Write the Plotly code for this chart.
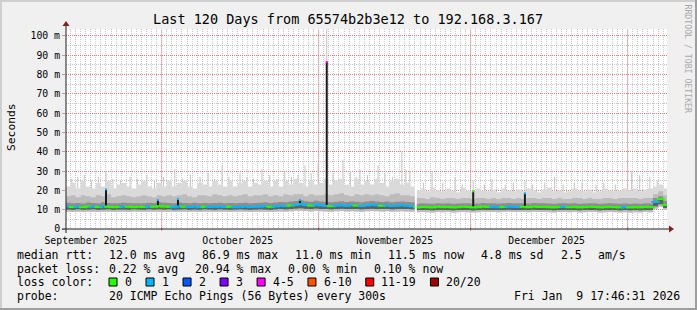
import plotly.graph_objects as go
import pandas as pd

# ---------------- data ----------------
START_DAY = "2025-09-12"          # first daily bin
X_RANGE = ["2025-09-12 02:30", "2026-01-08 18:15"]
Y_MAX = 103.6

median_ms = [
    11.6, 11.4, 11.5, 11.3, 11.6, 11.5, 11.4, 11.7, 11.5, 11.3, 11.4, 11.6, 11.5, 11.3, 11.5, 11.4, 11.6, 11.5, 11.8,
    11.6, 11.5, 11.3, 11.7, 11.5, 11.4, 11.6, 11.3, 11.5, 11.4, 11.5, 11.6, 11.4, 11.5, 11.3, 11.5, 11.6, 11.4, 11.5,
    11.6, 11.8, 11.5, 11.7, 12.0, 11.8, 12.2, 12.5, 12.9, 12.4, 12.1, 12.6,
    12.2, 12.0, 11.8, 12.1, 12.4, 12.0, 12.3, 12.1, 11.9, 12.2, 12.5, 12.3, 12.0, 12.2, 11.9, 12.1, 12.3, 12.0, 11.8,
    11.2, 11.4, 11.3, 11.2, 11.5, 11.3, 11.4, 11.2, 11.3, 11.5, 11.4, 11.2, 11.3, 11.6, 11.4, 11.5, 11.3, 11.4, 11.6, 11.5,
    11.4, 11.5, 11.3, 11.6, 11.4, 11.5, 11.3, 11.2, 11.4, 11.5, 11.3, 11.4, 11.2, 11.3, 11.5, 11.4, 11.2, 11.3, 11.4, 11.3, 11.2, 11.3,
    11.2, 11.3, 11.2, 11.4, 11.3, 14.0, 15.5, 12.5,
]
loss_cls = [
    1, 0, 1, 0, 0, 1, 0, 1, 0, 0, 0, 1, 0, 0, 0, 0, 1, 0, 0,
    0, 0, 1, 1, 0, 1, 1, 1, 0, 1, 1, 1, 1, 0, 1, 1, 1, 1, 1,
    1, 1, 0, 1, 1, 1, 0, 1, 1, 1, 0, 1,
    1, 1, 0, 1, 1, 1, 1, 0, 1, 1, 1, 1, 0, 1, 1, 1, 1, 1, 1,
    0, 0, 0, 0, 0, 0, 0, 0, 0, 0, 0, 0, 0, 0, 0, 1, 1, 0, 1, 1,
    1, 0, 0, 0, 0, 0, 0, 0, 0, 1, 0, 0, 0, 0, 0, 0, 0, 0, 0, 0, 0, 1,
    0, 0, 0, 0, 0, 1, 0, 0,
]
smoke_lo = [
    8.9, 8.8, 9.0, 8.8, 8.9, 9.0, 8.8, 8.9, 9.0, 8.8, 8.9, 8.9, 8.8, 9.0, 8.9, 8.8, 9.0, 8.9, 9.0,
    8.9, 9.0, 8.8, 8.9, 9.0, 8.8, 8.9, 8.8, 9.0, 8.9, 8.8, 9.0, 8.9, 8.8, 8.9, 9.0, 8.9, 8.8, 8.9,
    9.0, 8.9, 8.8, 9.0, 9.1, 9.0, 9.2, 9.4, 9.5, 9.3, 9.1, 9.3,
    9.2, 9.1, 9.0, 9.2, 9.3, 9.1, 9.2, 9.1, 9.0, 9.2, 9.3, 9.2, 9.1, 9.2, 9.0, 9.1, 9.2, 9.1, 9.0,
    8.7, 8.8, 8.7, 8.6, 8.8, 8.7, 8.8, 8.6, 8.7, 8.8, 8.7, 8.6, 8.7, 8.9, 8.8, 8.8, 8.7, 8.8, 8.9, 8.8,
    8.8, 8.8, 8.7, 8.9, 8.8, 8.8, 8.7, 8.6, 8.8, 8.8, 8.7, 8.8, 8.6, 8.7, 8.8, 8.8, 8.6, 8.7, 8.8, 8.7, 8.6, 8.7,
    8.6, 8.7, 8.6, 8.8, 8.7, 10.5, 11.5, 10.0,
]
smoke_dlo = [
    10.1, 10.0, 10.2, 10.0, 10.1, 10.2, 10.0, 10.1, 10.2, 10.0, 10.1, 10.1, 10.0, 10.2, 10.1, 10.0, 10.2, 10.1, 10.2,
    10.1, 10.2, 10.0, 10.1, 10.2, 10.0, 10.1, 10.0, 10.2, 10.1, 10.0, 10.2, 10.1, 10.0, 10.1, 10.2, 10.1, 10.0, 10.1,
    10.2, 10.1, 10.0, 10.2, 10.3, 10.2, 10.4, 10.6, 10.8, 10.5, 10.3, 10.6,
    10.4, 10.3, 10.2, 10.4, 10.5, 10.3, 10.4, 10.3, 10.2, 10.4, 10.5, 10.4, 10.3, 10.4, 10.2, 10.3, 10.4, 10.3, 10.2,
    9.8, 9.9, 9.8, 9.7, 9.9, 9.8, 9.9, 9.7, 9.8, 9.9, 9.8, 9.7, 9.8, 10.0, 9.9, 9.9, 9.8, 9.9, 10.0, 9.9,
    9.9, 9.9, 9.8, 10.0, 9.9, 9.9, 9.8, 9.7, 9.9, 9.9, 9.8, 9.9, 9.7, 9.8, 9.9, 9.9, 9.7, 9.8, 9.9, 9.8, 9.7, 9.8,
    9.7, 9.8, 9.7, 9.9, 9.8, 11.8, 12.8, 10.9,
]
smoke_dhi = [
    13.6, 13.3, 13.5, 13.2, 13.7, 13.5, 13.4, 13.8, 13.5, 13.3, 13.4, 13.6, 13.5, 13.3, 13.4, 13.4, 13.6, 13.5, 13.8,
    13.6, 13.5, 13.3, 13.7, 13.5, 13.4, 13.6, 13.3, 13.5, 13.4, 13.5, 13.6, 13.4, 13.5, 13.3, 13.5, 13.6, 13.4, 13.5,
    13.6, 13.8, 13.5, 13.7, 14.0, 13.8, 14.2, 14.5, 14.9, 14.4, 14.1, 14.6,
    14.2, 14.0, 13.8, 14.1, 14.4, 14.0, 14.3, 14.1, 13.9, 14.2, 14.5, 14.3, 14.0, 14.2, 13.9, 14.1, 14.3, 14.0, 13.8,
    13.1, 13.3, 13.2, 13.1, 13.4, 13.2, 13.3, 13.1, 13.2, 13.4, 13.3, 13.1, 13.2, 13.5, 13.3, 13.4, 13.2, 13.3, 13.5, 13.4,
    13.3, 13.4, 13.2, 13.5, 13.3, 13.4, 13.2, 13.1, 13.3, 13.4, 13.2, 13.3, 13.1, 13.2, 13.4, 13.3, 13.1, 13.2, 13.3, 13.2, 13.1, 13.2,
    13.1, 13.2, 13.1, 13.3, 13.2, 16.0, 17.0, 14.6,
]
smoke_mhi = [
    17, 17.5, 16.5, 17.5, 17, 16.5, 17.5, 17, 18, 16.5, 17, 17.5, 17, 16.5, 17, 17.5, 17, 16.5, 17.5,
    17, 17.5, 17, 17.5, 18, 17, 16.5, 17.5, 17.5, 17, 18, 17.5, 17, 17.5, 17, 17.5, 18, 17, 17.5,
    17.5, 18, 17, 17.5, 17, 18, 17.5, 18, 18, 17, 18, 17.5,
    17.5, 18, 17.5, 18, 18.5, 17.5, 17, 18, 17.5, 18, 17.5, 18, 17.5, 17, 18, 18.5, 17.5, 17.5, 17,
    16, 16, 15.5, 16.5, 16, 15.5, 16, 16, 15.5, 16, 16, 15.5, 16, 16, 15.5, 16, 15.5, 16, 16, 15.5,
    16, 15.5, 16, 16, 15.5, 16, 16, 15.5, 16, 15.5, 15.5, 16, 16, 15.5, 16, 15.5, 15.5, 16, 16, 15.5, 16, 16,
    16, 16, 15.5, 16, 16, 18, 19.5, 17.5,
]
smoke_hi = [
    22, 24, 21, 25, 22, 21, 24, 22, 25, 21, 23, 24, 22, 21, 23, 25, 22, 21, 24,
    22, 25, 22, 24, 25, 22, 21, 24, 23, 22, 25, 23, 22, 25, 22, 24, 25, 22, 24,
    23, 25, 22, 25, 22, 25, 23, 26, 24, 22, 25, 23,
    24, 26, 23, 25, 26, 23, 22, 26, 23, 25, 23, 26, 24, 22, 25, 26, 23, 24, 22,
    20, 21, 19.5, 21.5, 20, 19.5, 21, 20, 19, 21.5, 20, 19.5, 21, 20, 19.5, 20.5, 19, 21, 20, 19.5,
    20.5, 19.5, 21, 20, 19, 20.5, 21.5, 19.5, 20, 19, 19.5, 21, 20, 19.5, 20.5, 19, 19.5, 21, 20, 19.5, 20, 21,
    20, 21, 19.5, 20.5, 21, 22, 23, 21,
]

# thin light "smoke" spikes (time, top in ms)
spike_times = [
    "2025-09-13 06:00", "2025-09-14 10:00", "2025-09-15 17:00", "2025-09-17 03:00", "2025-09-18 12:00",
    "2025-09-20 00:00", "2025-09-21 09:00", "2025-09-22 20:00", "2025-09-24 18:00", "2025-09-26 05:00",
    "2025-09-28 02:00", "2025-09-29 14:00",
    "2025-10-01 08:00", "2025-10-03 14:00", "2025-10-05 02:00", "2025-10-06 16:00", "2025-10-08 13:30",
    "2025-10-10 04:00", "2025-10-11 10:00", "2025-10-12 22:00", "2025-10-14 06:00", "2025-10-16 11:00",
    "2025-10-17 20:00", "2025-10-19 03:00", "2025-10-20 19:00", "2025-10-22 08:00", "2025-10-23 18:00",
    "2025-10-25 07:00", "2025-10-26 15:00", "2025-10-27 22:00", "2025-10-29 07:00", "2025-10-30 12:00",
    "2025-10-31 21:00",
    "2025-11-02 14:00", "2025-11-03 20:00", "2025-11-05 19:00", "2025-11-07 06:00", "2025-11-08 10:00",
    "2025-11-09 03:30", "2025-11-10 15:00", "2025-11-12 17:00", "2025-11-14 02:00", "2025-11-15 13:00",
    "2025-11-17 10:00", "2025-11-18 05:00", "2025-11-19 00:00", "2025-11-21 16:00", "2025-11-23 09:00",
    "2025-11-25 12:00", "2025-11-27 22:00", "2025-11-29 08:00",
    "2025-12-01 12:00", "2025-12-03 17:00", "2025-12-05 05:00", "2025-12-07 20:00", "2025-12-09 10:00",
    "2025-12-11 17:00", "2025-12-13 04:00", "2025-12-15 15:00", "2025-12-17 14:00", "2025-12-19 06:00",
    "2025-12-21 11:00", "2025-12-23 00:00", "2025-12-25 18:00", "2025-12-27 07:00", "2025-12-29 13:00",
    "2026-01-01 19:00", "2026-01-03 09:00", "2026-01-05 09:00", "2026-01-06 20:00",
]
spike_tops = [
    26, 27, 28, 25, 27, 30, 26, 25, 27, 26, 28, 25,
    27, 31, 26, 28, 27, 29, 26, 33, 27, 29, 27, 26, 31, 28, 26, 30, 27, 28, 33, 29, 34,
    104, 29, 36, 30, 27, 31, 28, 33, 29, 27, 40, 31, 30, 24, 30, 24, 27, 23,
    25, 23, 26, 23, 24, 25, 23, 24, 27, 23, 24, 24, 23, 24, 23,
    30, 28, 27, 25,
]

# short data gap (no samples)
gap_times = ["2025-11-20 04:00"]
gap_tops = [24]

# dark spikes of the median (time, base, top, loss class at the tip)
dark_times = ["2025-09-20 00:00", "2025-09-30 06:00", "2025-10-04 05:00", "2025-10-28 07:00",
              "2025-11-02 14:00", "2025-12-01 12:00", "2025-12-11 17:00"]
dark_base = [11.5, 11.6, 11.5, 12.4, 12.0, 11.3, 11.4]
dark_tops = [20.5, 15.0, 15.5, 15.0, 86.5, 19.5, 18.5]
dark_loss = [1, 1, 1, 1, 4, 0, 1]

loss_labels = ["0", "1", "2", "3", "4-5", "6-10", "11-19", "20/20"]
loss_colors = ["#26ff00", "#00b8ff", "#0059ff", "#7e00ff", "#ff00ff", "#ff5500", "#ff0000", "#a10000"]

y_tick_vals = [0, 10, 20, 30, 40, 50, 60, 70, 80, 90, 100]
y_tick_text = ["0", "10 m", "20 m", "30 m", "40 m", "50 m", "60 m", "70 m", "80 m", "90 m", "100 m"]
month_label_dates = ["2025-09-16", "2025-10-16", "2025-11-16", "2025-12-16"]
month_labels = ["September 2025", "October 2025", "November 2025", "December 2025"]
month_grid_dates = ["2025-10-01", "2025-11-01", "2025-12-01", "2026-01-01"]

title_text = "Last 120 Days from 65574b2b3e12 to 192.168.3.167"
row_median_label = "median rtt:"
row_median = ["12.0 ms avg", "86.9 ms max", "11.0 ms min", "11.5 ms now", "4.8 ms sd", "2.5", "am/s"]
row_loss_label = "packet loss:"
row_loss = ["0.22 % avg", "20.94 % max", "0.00 % min", "0.10 % now"]
row_color_label = "loss color:"
row_probe_label = "probe:"
row_probe = ["20 ICMP Echo Pings (56 Bytes) every 300s"]
row_probe_date = "Fri Jan  9 17:46:31 2026"
watermark = "RRDTOOL / TOBI OETIKER"

# ---------------- styling ----------------
W, H = 697, 310
PL, PR, PT, PB = 66, 667, 29, 229
MONO = "DejaVu Sans Mono"
BACK, CANVAS = "#f0f0f0", "#ffffff"
SHADEA, SHADEB = "#cfcfcf", "#9e9e9e"
GRID = "rgba(143,143,143,0.5)"
MGRID = "rgba(222,80,80,0.6)"
ARROW = "#7f1f1f"
AXIS = "#1f1f1f"
DOT = "1px,1px"


def px(x):
    return (x - PL) / (PR - PL)


def py(y):
    return (PB - y) / (PB - PT)


days = pd.date_range(START_DAY, periods=len(median_ms), freq="D")
edges = pd.date_range(START_DAY, periods=len(median_ms) + 1, freq="D")
centers = days + pd.Timedelta(hours=12)


def step(v):
    return list(v) + [v[-1]]


def day_index(t):
    return (pd.Timestamp(t).normalize() - pd.Timestamp(START_DAY)).days


fig = go.Figure()

# light spikes (under the smoke bands)
sx, sy = [], []
for t, top in zip(spike_times, spike_tops):
    sx += [pd.Timestamp(t), pd.Timestamp(t), None]
    sy += [smoke_lo[day_index(t)], top, None]
fig.add_trace(go.Scatter(x=sx, y=sy, mode="lines", line=dict(color="#c2c2c2", width=1),
                         hoverinfo="skip", showlegend=False))


def band(lo, hi, color):
    fig.add_trace(go.Scatter(x=edges, y=step(lo), mode="lines", line=dict(width=0, shape="hv"),
                             hoverinfo="skip", showlegend=False))
    fig.add_trace(go.Scatter(x=edges, y=step(hi), mode="lines", line=dict(width=0, shape="hv"),
                             fill="tonexty", fillcolor=color, hoverinfo="skip", showlegend=False))


band(smoke_lo, smoke_hi, "#dadada")
band(smoke_lo, smoke_mhi, "#bcbcbc")
band(smoke_dlo, smoke_dhi, "#8e8e8e")
band(smoke_dlo, median_ms, "#606060")

# dark median spikes
dx, dy = [], []
for t, b, top in zip(dark_times, dark_base, dark_tops):
    dx += [pd.Timestamp(t), pd.Timestamp(t), None]
    dy += [b, top, None]
fig.add_trace(go.Scatter(x=dx, y=dy, mode="lines", line=dict(color="#1a1a1a", width=2),
                         hoverinfo="skip", showlegend=False))

# median line coloured by loss
fig.add_trace(go.Scatter(x=centers, y=median_ms, mode="markers",
                         marker=dict(symbol="line-ew", size=6,
                                     line=dict(width=2, color=[loss_colors[c] for c in loss_cls])),
                         hoverinfo="skip", showlegend=False))
fig.add_trace(go.Scatter(x=[pd.Timestamp(t) for t in dark_times], y=dark_tops, mode="markers",
                         marker=dict(symbol="square", size=2, color=[loss_colors[c] for c in dark_loss]),
                         hoverinfo="skip", showlegend=False))

# data gap
gx, gy = [], []
for t, top in zip(gap_times, gap_tops):
    gx += [pd.Timestamp(t), pd.Timestamp(t), None]
    gy += [smoke_lo[day_index(t)] - 0.5, top, None]
fig.add_trace(go.Scatter(x=gx, y=gy, mode="lines", line=dict(color=CANVAS, width=2),
                         hoverinfo="skip", showlegend=False))

shapes = []
# frame shading
shapes += [
    dict(type="rect", xref="paper", yref="paper", x0=px(0), x1=px(W), y0=py(0), y1=py(2),
         fillcolor=SHADEA, line_width=0, layer="below"),
    dict(type="rect", xref="paper", yref="paper", x0=px(0), x1=px(2), y0=py(0), y1=py(H),
         fillcolor=SHADEA, line_width=0, layer="below"),
    dict(type="rect", xref="paper", yref="paper", x0=px(0), x1=px(W), y0=py(H - 2), y1=py(H),
         fillcolor=SHADEB, line_width=0, layer="below"),
    dict(type="rect", xref="paper", yref="paper", x0=px(W - 2), x1=px(W), y0=py(0), y1=py(H),
         fillcolor=SHADEB, line_width=0, layer="below"),
]
# month (major) grid lines
for d in month_grid_dates:
    shapes.append(dict(type="line", xref="x", yref="paper", x0=d, x1=d, y0=0, y1=1,
                       line=dict(color=MGRID, width=1, dash=DOT), layer="below"))
    shapes.append(dict(type="line", xref="x", yref="paper", x0=d, x1=d, y0=py(PB + 2), y1=py(PB - 2),
                       line=dict(color=MGRID, width=1), layer="above"))
# axis lines and arrows
shapes += [
    dict(type="line", xref="paper", yref="paper", x0=px(PL - 4), x1=px(PR + 3), y0=0, y1=0,
         line=dict(color=AXIS, width=1), layer="above"),
    dict(type="line", xref="paper", yref="paper", x0=0, x1=0, y0=py(PB + 4), y1=py(PT - 4),
         line=dict(color=AXIS, width=1), layer="above"),
    dict(type="path", xref="paper", yref="paper",
         path=f"M {px(PR + 2)},{py(PB - 3.5)} L {px(PR + 7)},{py(PB)} L {px(PR + 2)},{py(PB + 3.5)} Z",
         fillcolor=ARROW, line=dict(color=ARROW, width=0), layer="above"),
    dict(type="path", xref="paper", yref="paper",
         path=f"M {px(PL - 3.5)},{py(PT - 3)} L {px(PL)},{py(PT - 8)} L {px(PL + 3.5)},{py(PT - 3)} Z",
         fillcolor=ARROW, line=dict(color=ARROW, width=0), layer="above"),
]

annotations = []


def text(x, y, s, size, anchor="left", angle=0, color="#000000"):
    annotations.append(dict(x=px(x), y=py(y), xref="paper", yref="paper",
                            text=s.replace(" ", "&nbsp;"), showarrow=False, borderpad=0,
                            xanchor=anchor, yanchor="middle", textangle=angle,
                            font=dict(family=MONO, size=size, color=color)))


text(347.5, 19, title_text, 13.5, "center")
text(11, 127, "Seconds", 11.3, "center", -90)
text(687.5, 59, watermark, 8.2, "center", 90, "#a8a8a8")

LEG = 11.5
CW = 0.602 * LEG
LEG_X0, LEG_COL, GAP = 16, 107.6, 17.0
ROW_Y = [255, 268.5, 282, 295.5]


def legend_row(y, label, items):
    text(LEG_X0, y, label, LEG)
    x = LEG_COL
    for s in items:
        text(x, y, s, LEG)
        x += len(s) * CW + GAP


legend_row(ROW_Y[0], row_median_label, row_median)
legend_row(ROW_Y[1], row_loss_label, row_loss)
legend_row(ROW_Y[3], row_probe_label, row_probe)
text(681, ROW_Y[3], row_probe_date, LEG, "right")
text(LEG_X0, ROW_Y[2], row_color_label, LEG)

bx = LEG_COL + 1.4
for lab, col in zip(loss_labels, loss_colors):
    shapes.append(dict(type="rect", xref="paper", yref="paper", x0=px(bx), x1=px(bx + 8),
                       y0=py(ROW_Y[2] + 4), y1=py(ROW_Y[2] - 4), fillcolor=col,
                       line=dict(color="#000000", width=1), layer="above"))
    text(bx + 14.6, ROW_Y[2], lab, LEG)
    bx = bx + 14.6 + len(lab) * CW + 15.5

fig.update_layout(
    width=W, height=H,
    margin=dict(l=PL, r=W - PR, t=PT, b=H - PB, pad=0),
    paper_bgcolor=BACK, plot_bgcolor=CANVAS,
    showlegend=False,
    shapes=shapes, annotations=annotations,
    font=dict(family=MONO, color="#000000"),
)
fig.update_xaxes(
    type="date", range=X_RANGE, tickmode="array", tickvals=month_label_dates, ticktext=month_labels,
    ticks="outside", ticklen=2, tickcolor="rgba(0,0,0,0)", showgrid=False, zeroline=False, showline=False,
    tickfont=dict(family=MONO, size=9.8, color="#000000"),
    minor=dict(dtick=86400000, tick0=START_DAY, showgrid=True, gridcolor=GRID, griddash=DOT, gridwidth=1),
)
fig.update_yaxes(
    range=[0, Y_MAX], tickmode="array", tickvals=y_tick_vals, ticktext=y_tick_text,
    showgrid=True, gridcolor=MGRID, griddash=DOT, gridwidth=1, zeroline=False, showline=False,
    ticks="outside", ticklen=3, tickcolor=MGRID,
    tickfont=dict(family=MONO, size=9.8, color="#000000"),
    minor=dict(dtick=5, showgrid=True, gridcolor=GRID, griddash=DOT, gridwidth=1),
)

fig.write_html("out.html")
